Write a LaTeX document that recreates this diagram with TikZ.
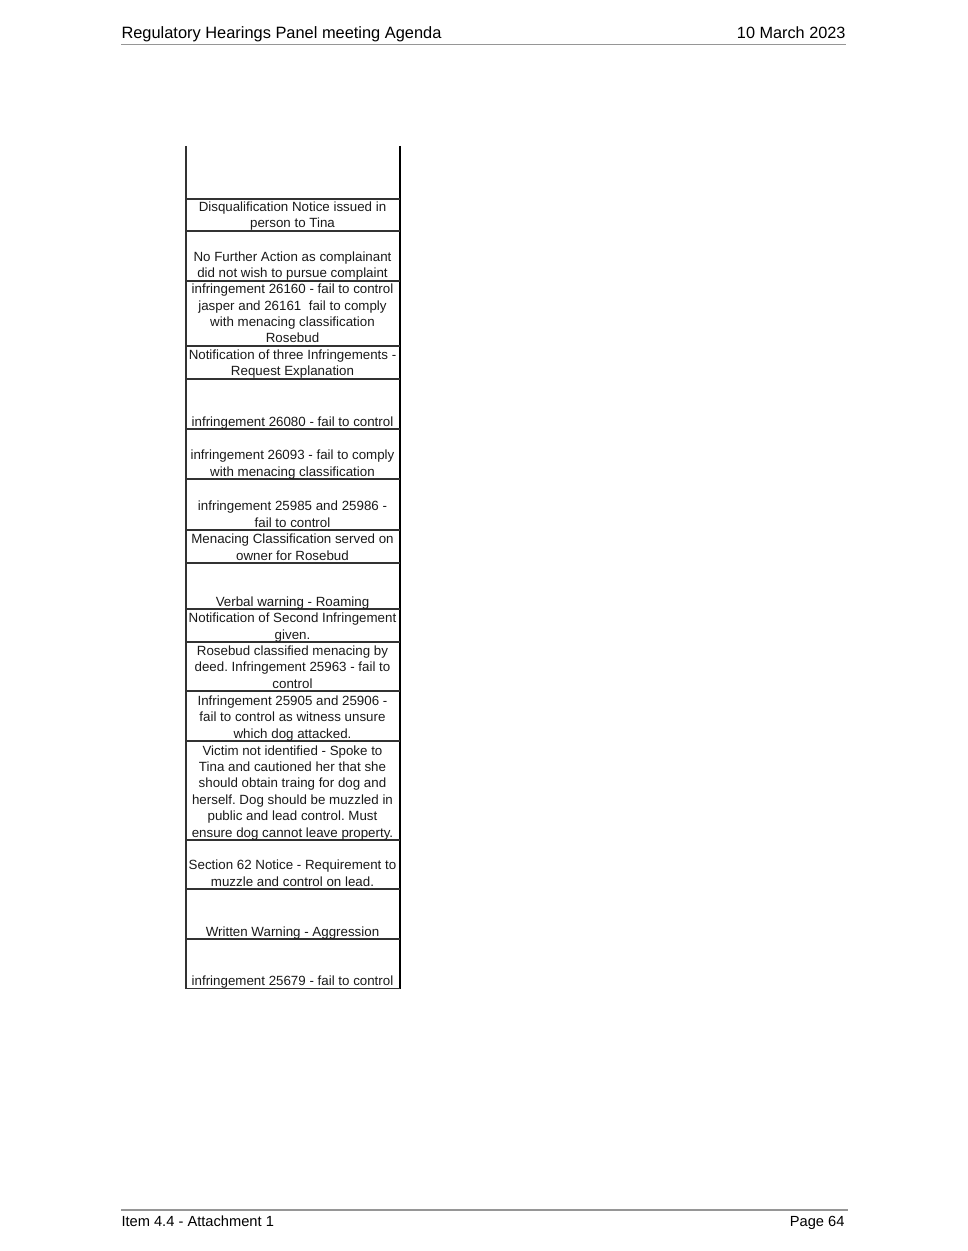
\documentclass[tikz,border=0pt]{standalone}
\usepackage{fontspec}
\setmainfont{Liberation Sans}
\frenchspacing

\tikzset{every picture/.style={line width=0.75pt}}
\tikzset{cell/.style={anchor=south,inner sep=0pt,text depth=0pt,align=center,font=\fontsize{10}{12.3}\selectfont,text={rgb, 255:red, 25; green, 25; blue, 25 }}}

\begin{document}
\begin{tikzpicture}[x=0.75pt,y=0.75pt,yscale=-1,xscale=1]
		\useasboundingbox (0,0) rectangle (967,1251);
		
		%Header
		\draw [color={rgb, 255:red, 150; green, 150; blue, 150 }  ,draw opacity=1 ][line width=1.1]    (121,44.5) -- (846,44.5) ;
		\draw (121,39) node (hdl) [anchor=base west][inner sep=0pt]  [font=\fontsize{12.3}{14}\selectfont]  {Regulatory Hearings Panel meeting Agenda};
		\draw (846,39) node (hdr) [anchor=base east][inner sep=0pt]  [font=\fontsize{12.2}{14}\selectfont]  {10 March 2023};
		
		%Footer
		\draw [color={rgb, 255:red, 150; green, 150; blue, 150 }  ,draw opacity=1 ][line width=1.1]    (121,1210) -- (848,1210) ;
		\draw (121,1226.5) node (ftl) [anchor=base west][inner sep=0pt]  [font=\fontsize{11}{13}\selectfont]  {Item 4.4 - Attachment 1};
		\draw (845,1226.5) node (ftr) [anchor=base east][inner sep=0pt]  [font=\fontsize{11}{13}\selectfont]  {Page 64};
		
		%Shape: Table column
		\draw [color={rgb, 255:red, 50; green, 50; blue, 50 }  ,draw opacity=1 ][line width=1]    (186,146) -- (186,988.5) ;
		\draw [color={rgb, 255:red, 0; green, 0; blue, 0 }  ,draw opacity=1 ][line width=1.5]    (399.5,146) -- (399.5,989) ;
		\foreach \y in {199,231,281,346,379,429,479,530,563,609,642,691,741,840,889,939,988.5}
		{\draw [color={rgb, 255:red, 50; green, 50; blue, 50 }  ,draw opacity=1 ][line width=1]    (186,\y) -- (399.5,\y) ;}
		
		\draw (292.5,228.5) node (disq) [cell]    {Disqualification Notice issued in\\person to Tina};
		\draw (292.5,278.5) node (nfa) [cell]    {No Further Action as complainant\\did not wish to pursue complaint};
		\draw (292.5,343.5) node (inf26160) [cell]    {infringement 26160 - fail to control\\jasper and 26161\ \ fail to comply\\with menacing classification\\Rosebud};
		\draw (292.5,376.5) node (notthree) [cell]    {Notification of three Infringements -\\Request Explanation};
		\draw (292.5,426.5) node (inf26080) [cell]    {infringement 26080 - fail to control};
		\draw (292.5,476.5) node (inf26093) [cell]    {infringement 26093 - fail to comply\\with menacing classification};
		\draw (292.5,527.5) node (inf25985) [cell]    {infringement 25985 and 25986 -\\fail to control};
		\draw (292.5,560.5) node (menclass) [cell]    {Menacing Classification served on\\owner for Rosebud};
		\draw (292.5,606.5) node (verbal) [cell]    {Verbal warning - Roaming};
		\draw (292.5,639.5) node (notsecond) [cell]    {Notification of Second Infringement\\given.};
		\draw (292.5,688.5) node (deed) [cell]    {Rosebud classified menacing by\\deed. Infringement 25963 - fail to\\control};
		\draw (292.5,738.5) node (inf25905) [cell]    {Infringement 25905 and 25906 -\\fail to control as witness unsure\\which dog attacked.};
		\draw (292.5,837.5) node (victim) [cell]    {Victim not identified - Spoke to\\Tina and cautioned her that she\\should obtain traing for dog and\\herself. Dog should be muzzled in\\public and lead control. Must\\ensure dog cannot leave property.};
		\draw (292.5,886.5) node (sec62) [cell]    {Section 62 Notice - Requirement to\\muzzle and control on lead.};
		\draw (292.5,936.5) node (written) [cell]    {Written Warning - Aggression};
		\draw (292.5,985.5) node (inf25679) [cell]    {infringement 25679 - fail to control};
		
		
	\end{tikzpicture}
\end{document}
